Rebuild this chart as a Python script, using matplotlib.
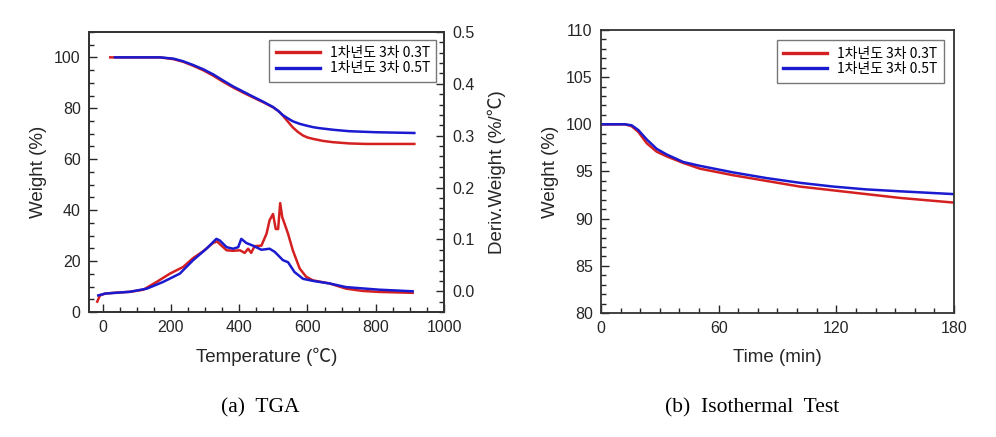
import matplotlib
matplotlib.use("Agg")
import matplotlib.pyplot as plt
from matplotlib.ticker import MultipleLocator, FormatStrFormatter

plt.rcParams['font.family'] = ['Liberation Sans', 'Noto Sans CJK KR', 'DejaVu Sans']

# ---- data ----
labels = ['1차년도 3차 0.3T', '1차년도 3차 0.5T']
colors = ['#d42020', '#1a1ad0']

# TGA weight (%)
t_w_red = [22, 100, 168, 207, 235, 265, 295, 324, 353, 382, 411, 440, 470, 499, 515, 528,
           543, 557, 572, 587, 601, 616, 645, 674, 723, 772, 913]
w_red = [100, 100, 100, 99.3, 98.3, 96.7, 94.9, 92.8, 90.4, 88.2, 86.2, 84.3, 82.4, 80.4,
         78.9, 77.1, 74.7, 72.5, 70.7, 69.3, 68.5, 68.0, 67.2, 66.7, 66.2, 66.0, 66.0]
t_w_blue = [36, 100, 168, 207, 235, 265, 295, 324, 353, 382, 411, 440, 470, 499, 515, 528,
            543, 557, 577, 597, 616, 635, 680, 723, 800, 913]
w_blue = [100, 100, 100, 99.5, 98.5, 97.0, 95.3, 93.3, 90.9, 88.6, 86.6, 84.6, 82.6, 80.5,
          78.9, 77.3, 76.0, 74.9, 73.9, 73.2, 72.6, 72.2, 71.5, 71.0, 70.6, 70.3]

# derivative weight (%/C)
t_d_red = [-16, -8, 7, 31, 80, 119, 158, 197, 236, 265, 294, 323, 335, 348, 363, 382, 402,
           416, 426, 435, 445, 465, 480, 489, 499, 507, 514, 520, 526, 543, 557, 577, 596,
           616, 665, 713, 762, 811, 908]
d_red = [-0.020, -0.008, -0.0045, -0.003, -0.001, 0.003, 0.018, 0.034, 0.047, 0.064, 0.077,
         0.093, 0.096, 0.088, 0.079, 0.078, 0.079, 0.074, 0.082, 0.074, 0.087, 0.088, 0.111,
         0.137, 0.149, 0.120, 0.120, 0.170, 0.143, 0.111, 0.079, 0.044, 0.028, 0.021, 0.015,
         0.005, 0.0006, -0.0013, -0.003]
t_d_blue = [-13, 7, 80, 129, 177, 226, 265, 304, 333, 343, 363, 382, 397, 406, 421, 440, 465,
            489, 504, 528, 543, 562, 587, 616, 665, 713, 811, 908]
d_blue = [-0.008, -0.0045, -0.001, 0.005, 0.018, 0.034, 0.060, 0.082, 0.101, 0.098, 0.085,
          0.082, 0.085, 0.101, 0.093, 0.088, 0.080, 0.082, 0.076, 0.060, 0.056, 0.037, 0.024,
          0.020, 0.015, 0.008, 0.003, 0.000]

# isothermal test
t_iso = [0, 12.2, 15.6, 19, 23.3, 28.4, 33.5, 42, 50.4, 67.4, 84.4, 101.4, 118.4, 135.3, 152.3, 180]
iso_red = [100, 100, 99.8, 99.2, 98.0, 97.1, 96.6, 95.9, 95.3, 94.6, 94.0, 93.4, 93.0, 92.6, 92.2, 91.7]
iso_blue = [100, 100, 99.9, 99.4, 98.4, 97.4, 96.8, 96.0, 95.6, 94.9, 94.3, 93.8, 93.4, 93.1, 92.9, 92.6]

text_col = '#262626'
cjk = ['Noto Sans CJK KR', 'DejaVu Sans']
serif = ['Liberation Serif', 'DejaVu Serif']


def style_axis(ax):
    ax.tick_params(which='both', direction='in', colors=text_col, labelsize=11.5, pad=6)
    ax.tick_params(which='major', length=6, width=1)
    ax.tick_params(which='minor', length=3.5, width=1)
    for s in ax.spines.values():
        s.set_linewidth(1.3)
        s.set_color('#333333')


def add_legend(ax, pad):
    leg = ax.legend(loc='upper right', prop={'family': cjk, 'size': 10}, frameon=True,
                    fancybox=False, edgecolor='#555555', handlelength=3.2,
                    borderaxespad=pad, labelspacing=0.12, handletextpad=0.7,
                    borderpad=0.45)
    leg.get_frame().set_linewidth(1)
    for h in leg.get_lines():
        h.set_linewidth(2.4)


fig = plt.figure(figsize=(9.96, 4.37), dpi=100)

# ---- (a) TGA ----
ax1 = fig.add_axes([0.0894, 0.286, 0.3564, 0.641])
ax1.plot(t_w_red, w_red, color=colors[0], lw=1.8, label=labels[0])
ax1.plot(t_w_blue, w_blue, color=colors[1], lw=1.8, label=labels[1])
ax1.set_xlim(-40, 1000)
ax1.set_ylim(0, 110)
ax1.xaxis.set_major_locator(MultipleLocator(200))
ax1.xaxis.set_minor_locator(MultipleLocator(50))
ax1.yaxis.set_major_locator(MultipleLocator(20))
ax1.yaxis.set_minor_locator(MultipleLocator(5))
ax1.set_ylabel('Weight (%)', fontsize=13.5, color=text_col, labelpad=5)
ax1.set_xlabel('Temperature (℃)', fontsize=13.5, color=text_col, labelpad=9)
style_axis(ax1)
ax1.tick_params(top=False, right=False)
add_legend(ax1, 0.55)

ax1b = ax1.twinx()
ax1b.plot(t_d_red, d_red, color=colors[0], lw=1.8)
ax1b.plot(t_d_blue, d_blue, color=colors[1], lw=1.8)
ax1b.set_ylim(-0.04, 0.5)
ax1b.yaxis.set_major_locator(MultipleLocator(0.1))
ax1b.yaxis.set_minor_locator(MultipleLocator(0.02))
ax1b.yaxis.set_major_formatter(FormatStrFormatter('%.1f'))
ax1b.set_ylabel('Deriv.Weight (%/℃)', fontsize=13.5, color=text_col, labelpad=9)
style_axis(ax1b)

fig.text(0.261, 0.066, '(a)  TGA', ha='center', va='center', fontsize=15.5, family=serif)

# ---- (b) Isothermal ----
ax2 = fig.add_axes([0.6034, 0.2838, 0.3544, 0.6476])
ax2.plot(t_iso, iso_red, color=colors[0], lw=1.8, label=labels[0])
ax2.plot(t_iso, iso_blue, color=colors[1], lw=1.8, label=labels[1])
ax2.set_xlim(0, 180)
ax2.set_ylim(80, 110)
ax2.xaxis.set_major_locator(MultipleLocator(60))
ax2.xaxis.set_minor_locator(MultipleLocator(10))
ax2.yaxis.set_major_locator(MultipleLocator(5))
ax2.yaxis.set_minor_locator(MultipleLocator(1))
ax2.set_ylabel('Weight (%)', fontsize=13.5, color=text_col, labelpad=5)
ax2.set_xlabel('Time (min)', fontsize=13.5, color=text_col, labelpad=9)
style_axis(ax2)
add_legend(ax2, 0.75)

fig.text(0.755, 0.066, '(b)  Isothermal  Test', ha='center', va='center', fontsize=15.5,
         family=serif)

fig.savefig('out.png', dpi=100)
